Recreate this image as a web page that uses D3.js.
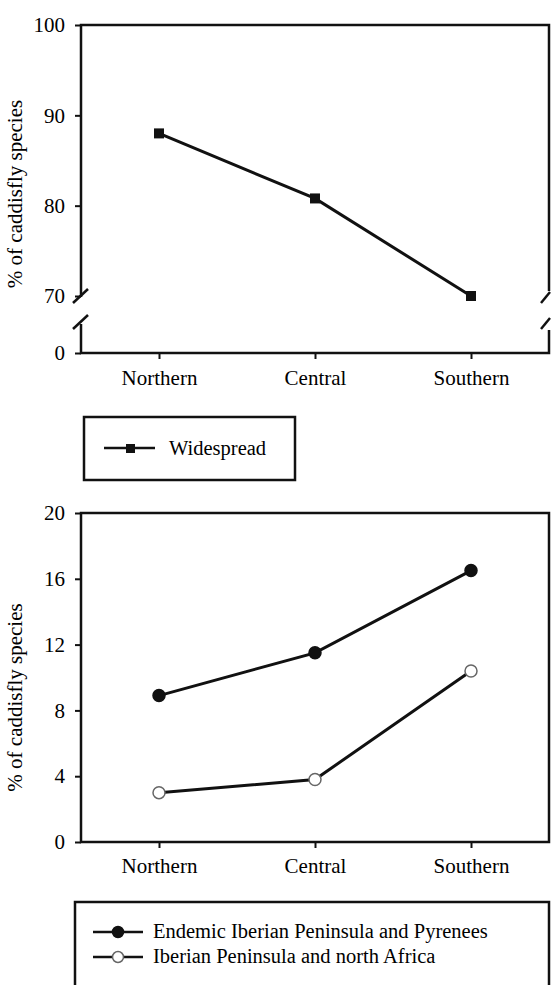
<!DOCTYPE html>
<html>
<meta charset="utf-8">
<script src="https://d3js.org/d3.v7.min.js"></script>
<style>
  body { margin: 0; background: #fff; }
  text { font-family: "Liberation Serif", "Times New Roman", serif; fill: #000; }
</style>
<body>
<div id="vis"></div>
<script>
  // data
  const regions = ["Northern", "Central", "Southern"];
  const widespread = [88.0, 80.8, 70.0];
  const endemic = [8.9, 11.5, 16.5];
  const northAfrica = [3.0, 3.8, 10.4];
  const topTicks = [0, 70, 80, 90, 100];
  const bottomTicks = [0, 4, 8, 12, 16, 20];

  const W = 552, H = 985;
  const fs = 21;
  const svg = d3.select("#vis").append("svg")
    .attr("width", W).attr("height", H);

  const left = 81, right = 549;
  const x = d3.scalePoint().domain(regions).range([left, right]).padding(0.5);

  // ---------- top panel ----------
  const top1 = 25, bot1 = 353, brk1 = 296;
  // broken axis: 0 at the bottom, 70..100 above the break
  const y1 = d3.scaleLinear().domain([0, 70, 100]).range([bot1, brk1, top1]);

  function styleAxis(g) {
    g.selectAll("path.domain").remove();
    g.selectAll(".tick line").attr("stroke", "#111").attr("stroke-width", 2);
    g.selectAll(".tick text").style("font-size", fs + "px")
      .style("font-family", "Liberation Serif, serif").attr("fill", "#000");
  }

  const p1 = svg.append("g");
  p1.append("g")
    .attr("transform", `translate(${left},0)`)
    .call(d3.axisLeft(y1).tickValues(topTicks).tickSize(6).tickPadding(10))
    .call(styleAxis);
  p1.append("g")
    .attr("transform", `translate(0,${bot1})`)
    .call(d3.axisBottom(x).tickSize(6).tickPadding(11))
    .call(styleAxis);

  // frame with breaks on both sides
  const frame = p1.append("g").attr("stroke", "#111").attr("stroke-width", 2.5)
    .attr("fill", "none");
  const gapTop = brk1 + 1, gapBot = brk1 + 28;
  frame.append("path").attr("d",
    `M${left},${gapTop} V${top1} H${right} V${gapTop - 6}`);
  frame.append("path").attr("d",
    `M${left},${gapBot} V${bot1} H${right} V${gapBot + 6}`);
  // break slashes
  const slash = (cx, cy) => `M${cx - 8},${cy + 7} L${cx + 7},${cy - 7}`;
  [[left, brk1], [left, brk1 + 26]].forEach(([cx, cy]) =>
    frame.append("path").attr("d", slash(cx, cy)));
  [[right - 3, brk1], [right - 3, brk1 + 26]].forEach(([cx, cy]) =>
    frame.append("path").attr("d", `M${cx - 5},${cy + 7} L${cx + 4},${cy - 4}`));

  const line1 = d3.line().x((d, i) => x(regions[i])).y(d => y1(d));
  p1.append("path").datum(widespread)
    .attr("d", line1).attr("fill", "none")
    .attr("stroke", "#111").attr("stroke-width", 3);
  p1.selectAll("rect.pt").data(widespread).join("rect")
    .attr("class", "pt")
    .attr("x", (d, i) => x(regions[i]) - 5)
    .attr("y", d => y1(d) - 5)
    .attr("width", 10).attr("height", 10)
    .attr("fill", "#111");

  p1.append("text")
    .attr("transform", `translate(22,${(top1 + bot1) / 2 + 5}) rotate(-90)`)
    .attr("text-anchor", "middle")
    .style("font-size", fs + "px")
    .text("% of caddisfly species");

  // legend 1
  const lg1 = svg.append("g");
  lg1.append("rect").attr("x", 84).attr("y", 417).attr("width", 211).attr("height", 63)
    .attr("fill", "none").attr("stroke", "#111").attr("stroke-width", 2.5);
  lg1.append("line").attr("x1", 104).attr("x2", 155).attr("y1", 448).attr("y2", 448)
    .attr("stroke", "#111").attr("stroke-width", 2.5);
  lg1.append("rect").attr("x", 126).attr("y", 444).attr("width", 9).attr("height", 9)
    .attr("fill", "#111");
  lg1.append("text").attr("x", 169).attr("y", 455)
    .style("font-size", "20.5px").text("Widespread");

  // ---------- bottom panel ----------
  const top2 = 513, bot2 = 842;
  const y2 = d3.scaleLinear().domain([0, 20]).range([bot2, top2]);

  const p2 = svg.append("g");
  p2.append("g")
    .attr("transform", `translate(${left},0)`)
    .call(d3.axisLeft(y2).tickValues(bottomTicks).tickSize(6).tickPadding(10))
    .call(styleAxis);
  p2.append("g")
    .attr("transform", `translate(0,${bot2})`)
    .call(d3.axisBottom(x).tickSize(6).tickPadding(10))
    .call(styleAxis);
  p2.append("rect").attr("x", left).attr("y", top2)
    .attr("width", right - left).attr("height", bot2 - top2)
    .attr("fill", "none").attr("stroke", "#111").attr("stroke-width", 2.5);

  const line2 = d3.line().x((d, i) => x(regions[i])).y(d => y2(d));
  const series = [
    { values: endemic, fill: "#111" },
    { values: northAfrica, fill: "#fff" }
  ];
  series.forEach(s => {
    p2.append("path").datum(s.values)
      .attr("d", line2).attr("fill", "none")
      .attr("stroke", "#111").attr("stroke-width", 3);
    p2.selectAll(null).data(s.values).join("circle")
      .attr("cx", (d, i) => x(regions[i]))
      .attr("cy", d => y2(d))
      .attr("r", 6)
      .attr("fill", s.fill)
      .attr("stroke", s.fill === "#fff" ? "#666" : "#111")
      .attr("stroke-width", 1.5);
  });

  p2.append("text")
    .attr("transform", `translate(22,${(top2 + bot2) / 2 + 20}) rotate(-90)`)
    .attr("text-anchor", "middle")
    .style("font-size", fs + "px")
    .text("% of caddisfly species");

  // legend 2
  const lg2 = svg.append("g");
  lg2.append("rect").attr("x", 75).attr("y", 902).attr("width", 474).attr("height", 120)
    .attr("fill", "none").attr("stroke", "#111").attr("stroke-width", 2.5);
  const legItems = [
    { label: "Endemic Iberian Peninsula and Pyrenees", fill: "#111" },
    { label: "Iberian Peninsula and north Africa", fill: "#fff" }
  ];
  legItems.forEach((d, i) => {
    const yy = 932 + i * 25;
    lg2.append("line").attr("x1", 93).attr("x2", 143).attr("y1", yy).attr("y2", yy)
      .attr("stroke", "#111").attr("stroke-width", 2.5);
    lg2.append("circle").attr("cx", 118).attr("cy", yy).attr("r", 5.5)
      .attr("fill", d.fill).attr("stroke", d.fill === "#fff" ? "#666" : "#111")
      .attr("stroke-width", 1.5);
    lg2.append("text").attr("x", 153).attr("y", yy + 6)
      .style("font-size", "20.5px").text(d.label);
  });
</script>
</body>
</html>
